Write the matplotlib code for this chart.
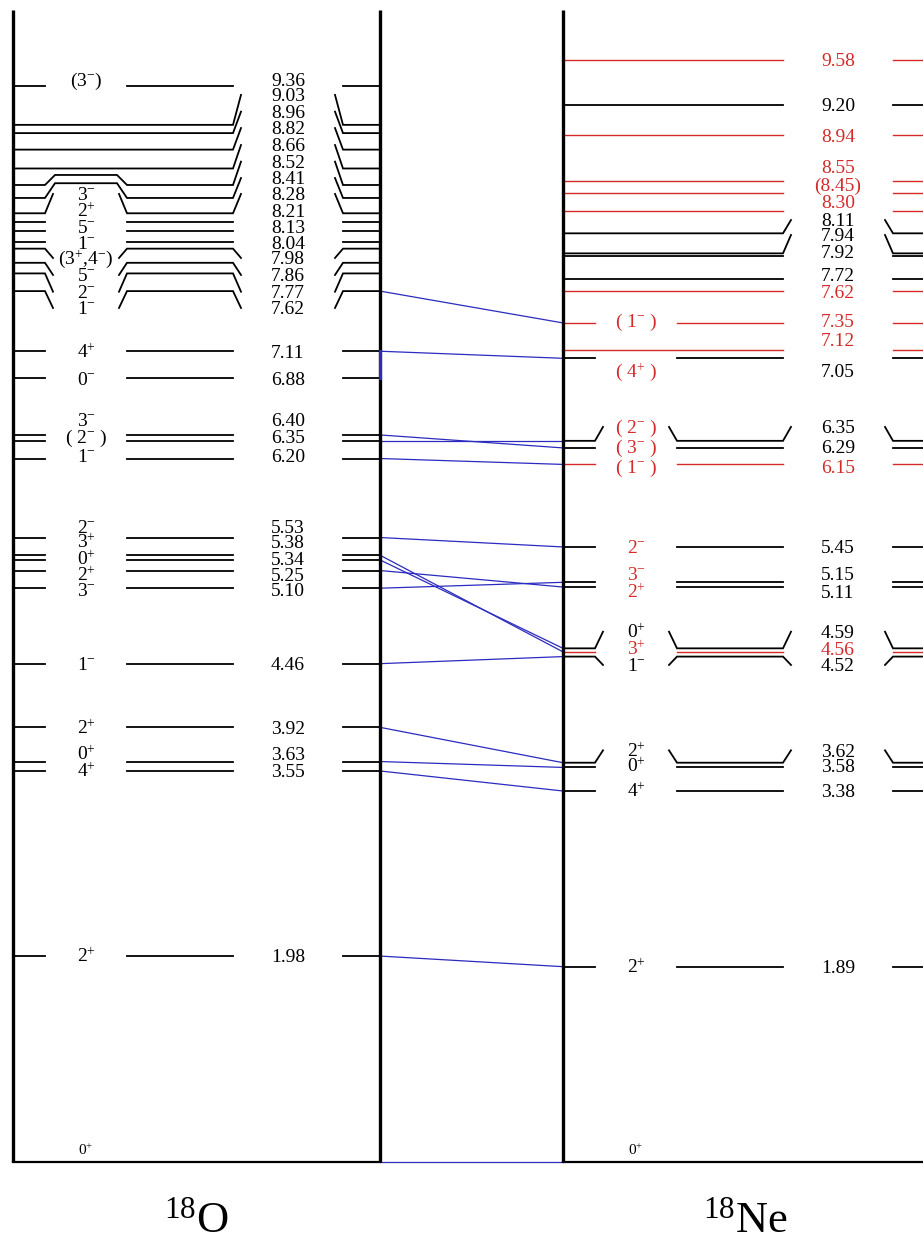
import re
import matplotlib
matplotlib.use("Agg")
import matplotlib.pyplot as plt

plt.rcParams["font.family"] = ["Liberation Serif", "DejaVu Serif"]
plt.rcParams["mathtext.fontset"] = "custom"
plt.rcParams["mathtext.rm"] = "Liberation Serif"
plt.rcParams["mathtext.it"] = "Liberation Serif:italic"
plt.rcParams["mathtext.bf"] = "Liberation Serif:bold"

# ---- 18O levels (MeV) and spin-parity ----
o18_energy = [0.0, 1.98, 3.55, 3.63, 3.92, 4.46, 5.10, 5.25, 5.34, 5.38, 5.53,
              6.20, 6.35, 6.40, 6.88, 7.11, 7.62, 7.77, 7.86, 7.98, 8.04, 8.13,
              8.21, 8.28, 8.41, 8.52, 8.66, 8.82, 8.96, 9.03, 9.36]
o18_jpi = ["0+", "2+", "4+", "0+", "2+", "1-", "3-", "2+", "0+", "3+", "2-",
           "1-", "( 2- )", "3-", "0-", "4+", "1-", "2-", "5-", "(3+,4-)", "1-", "5-",
           "2+", "3-", "", "", "", "", "", "", "(3-)"]

# ---- 18Ne levels (MeV) and spin-parity ----
ne18_energy = [0.0, 1.89, 3.38, 3.58, 3.62, 4.52, 4.56, 4.59, 5.11, 5.15, 5.45,
               6.15, 6.29, 6.35, 7.05, 7.12, 7.35, 7.62, 7.72, 7.92, 7.94, 8.11,
               8.30, 8.45, 8.55, 8.94, 9.20, 9.58]
ne18_jpi = ["0+", "2+", "4+", "0+", "2+", "1-", "3+", "0+", "2+", "3-", "2-",
            "( 1- )", "( 3- )", "( 2- )", "( 4+ )", "", "( 1- )", "", "", "", "", "",
            "", "", "", "", "", ""]
# levels / assignments from this work (drawn in red)
ne18_new_levels = [4.56, 6.15, 7.12, 7.35, 7.62, 8.30, 8.45, 8.55, 8.94, 9.58]
ne18_new_jpi = [4.56, 5.11, 5.15, 5.45, 6.15, 6.29, 6.35, 7.05, 7.35]
ne18_tentative = [8.45]

# analogue pairs (18O -> 18Ne)
analog_pairs = [(0.0, 0.0), (1.98, 1.89), (3.55, 3.38), (3.63, 3.58), (3.92, 3.62),
                (4.46, 4.52), (5.10, 5.15), (5.25, 5.11), (5.34, 4.59), (5.38, 4.56),
                (5.53, 5.45), (6.20, 6.15), (6.35, 6.35), (6.40, 6.29), (7.11, 7.05),
                (7.62, 7.35)]

# ---- label layout: where crowded labels are moved to, connector kinks, bumps ----
o18_label_at = {9.36: 9.41, 9.03: 9.284, 8.96: 9.142, 8.82: 9.003, 8.66: 8.859,
                8.52: 8.718, 8.41: 8.579, 8.28: 8.444, 8.21: 8.302, 8.13: 8.164,
                8.04: 8.031, 7.98: 7.901, 7.86: 7.757, 7.77: 7.615, 7.62: 7.477,
                6.40: 6.527, 6.35: 6.383, 6.20: 6.222, 5.53: 5.622, 5.38: 5.495,
                5.34: 5.354, 5.25: 5.212, 5.10: 5.085, 3.63: 3.694}
o18_kinked = [9.03, 8.96, 8.82, 8.66, 8.52, 8.41, 8.28, 7.98, 7.86, 7.77, 7.62]
o18_bump = {8.52: 0.085, 8.41: 0.125}

ne18_label_at = {8.55: 8.675, 8.45: 8.52, 8.30: 8.376, 8.11: 8.223, 7.94: 8.096,
                 7.92: 7.954, 7.72: 7.757, 7.62: 7.615, 7.35: 7.37, 7.12: 7.205,
                 7.05: 6.947, 6.35: 6.468, 6.29: 6.298, 6.15: 6.128, 5.15: 5.226,
                 5.11: 5.07, 4.59: 4.731, 4.56: 4.59, 4.52: 4.449, 3.62: 3.725,
                 3.58: 3.595}
ne18_kinked = [8.11, 7.94, 6.35, 4.59, 4.52, 3.62]

RED = "#d42a2a"
BLUE = "#2b2bbf"
FS = 14
K = 8            # horizontal width of a connector kink
FLOOR = 0.23     # ground state sits on the bottom of the frame
TOP = 10.0
DIGIT_MID = 0.054

# x layout: frame edges, spin-label gap, energy-label gap
O_BOX = dict(x0=13, x1=380, jp=(45, 127), en=(233, 343))
NE_BOX = dict(x0=563, x1=960, jp=(595, 677), en=(783, 893))


def jpi_tex(s):
    return re.sub(r"(\d)([+-])", r"$\1^{\2}$", s)


def level_paths(e, box, has_jp, lab, kink, bump):
    paths = [[(box["x0"], e)]]
    for (g0, g1), labelled in ((box["jp"], has_jp), (box["en"], True)):
        cur = paths[-1]
        if labelled:
            cur.append((g0, e))
            nxt = []
            if kink:
                cur.append((g0 + K, lab))
                nxt.append((g1 - K, lab))
            nxt.append((g1, e))
            paths.append(nxt)
        elif bump:
            cur += [(g0, e), (g0 + K + 2, e + bump), (g1 - K - 2, e + bump), (g1, e)]
    paths[-1].append((box["x1"], e))
    return paths


def draw_scheme(ax, energies, jpis, box, label_at, kinked, bumps,
                line_red=(), jpi_red=(), tentative=()):
    for e, jp in zip(energies, jpis):
        red_line = e in line_red
        lc = RED if red_line else "black"
        jc = RED if e in jpi_red else "black"
        if e == 0.0:
            ax.text(sum(box["jp"]) / 2, FLOOR + 0.06, jpi_tex(jp), color=jc,
                    fontsize=11, ha="center", va="baseline")
            continue
        lab = label_at.get(e, e)
        paths = level_paths(e, box, bool(jp), lab, e in kinked, bumps.get(e, 0))
        for p in paths:
            xs, ys = zip(*p)
            ax.plot(xs, ys, color=lc, lw=1.0 if red_line else 1.3,
                    solid_joinstyle="miter", zorder=2)
        txt = f"{e:.2f}"
        if e in tentative:
            txt = f"({txt})"
        ax.text(sum(box["en"]) / 2, lab - DIGIT_MID, txt, color=lc,
                fontsize=FS, ha="center", va="baseline")
        if jp:
            ax.text(sum(box["jp"]) / 2, lab - DIGIT_MID, jpi_tex(jp), color=jc,
                    fontsize=FS, ha="center", va="baseline")


fig = plt.figure(figsize=(9.23, 12.43), dpi=100)
ax = fig.add_axes([0, 0, 1, 1])
ax.set_xlim(0, 923)
ax.set_ylim(-0.4537, 10.089)
ax.axis("off")

draw_scheme(ax, o18_energy, o18_jpi, O_BOX, o18_label_at, o18_kinked, o18_bump)
draw_scheme(ax, ne18_energy, ne18_jpi, NE_BOX, ne18_label_at, ne18_kinked, {},
            line_red=ne18_new_levels, jpi_red=ne18_new_jpi, tentative=ne18_tentative)

# analogue-state connections
for eo, ene in analog_pairs:
    yo = FLOOR if eo == 0 else eo
    yn = FLOOR if ene == 0 else ene
    ax.plot([O_BOX["x1"], NE_BOX["x0"]], [yo, yn], color=BLUE, lw=0.9, zorder=1)
ax.plot([O_BOX["x1"]] * 2, [6.88, 7.11], color=BLUE, lw=2.2, zorder=4)

# frames
for x in (O_BOX["x0"], O_BOX["x1"], NE_BOX["x0"]):
    ax.plot([x, x], [FLOOR, TOP], color="black", lw=2.4, zorder=3,
            solid_capstyle="butt")
ax.plot([O_BOX["x0"], O_BOX["x1"]], [FLOOR, FLOOR], color="black", lw=1.6, zorder=3)
ax.plot([NE_BOX["x0"], NE_BOX["x1"]], [FLOOR, FLOOR], color="black", lw=1.6, zorder=3)

ax.text(196, -0.36, r"$^{18}$O", fontsize=32, ha="center", va="baseline")
ax.text(745, -0.36, r"$^{18}$Ne", fontsize=32, ha="center", va="baseline")

fig.savefig("out.png", dpi=100)
